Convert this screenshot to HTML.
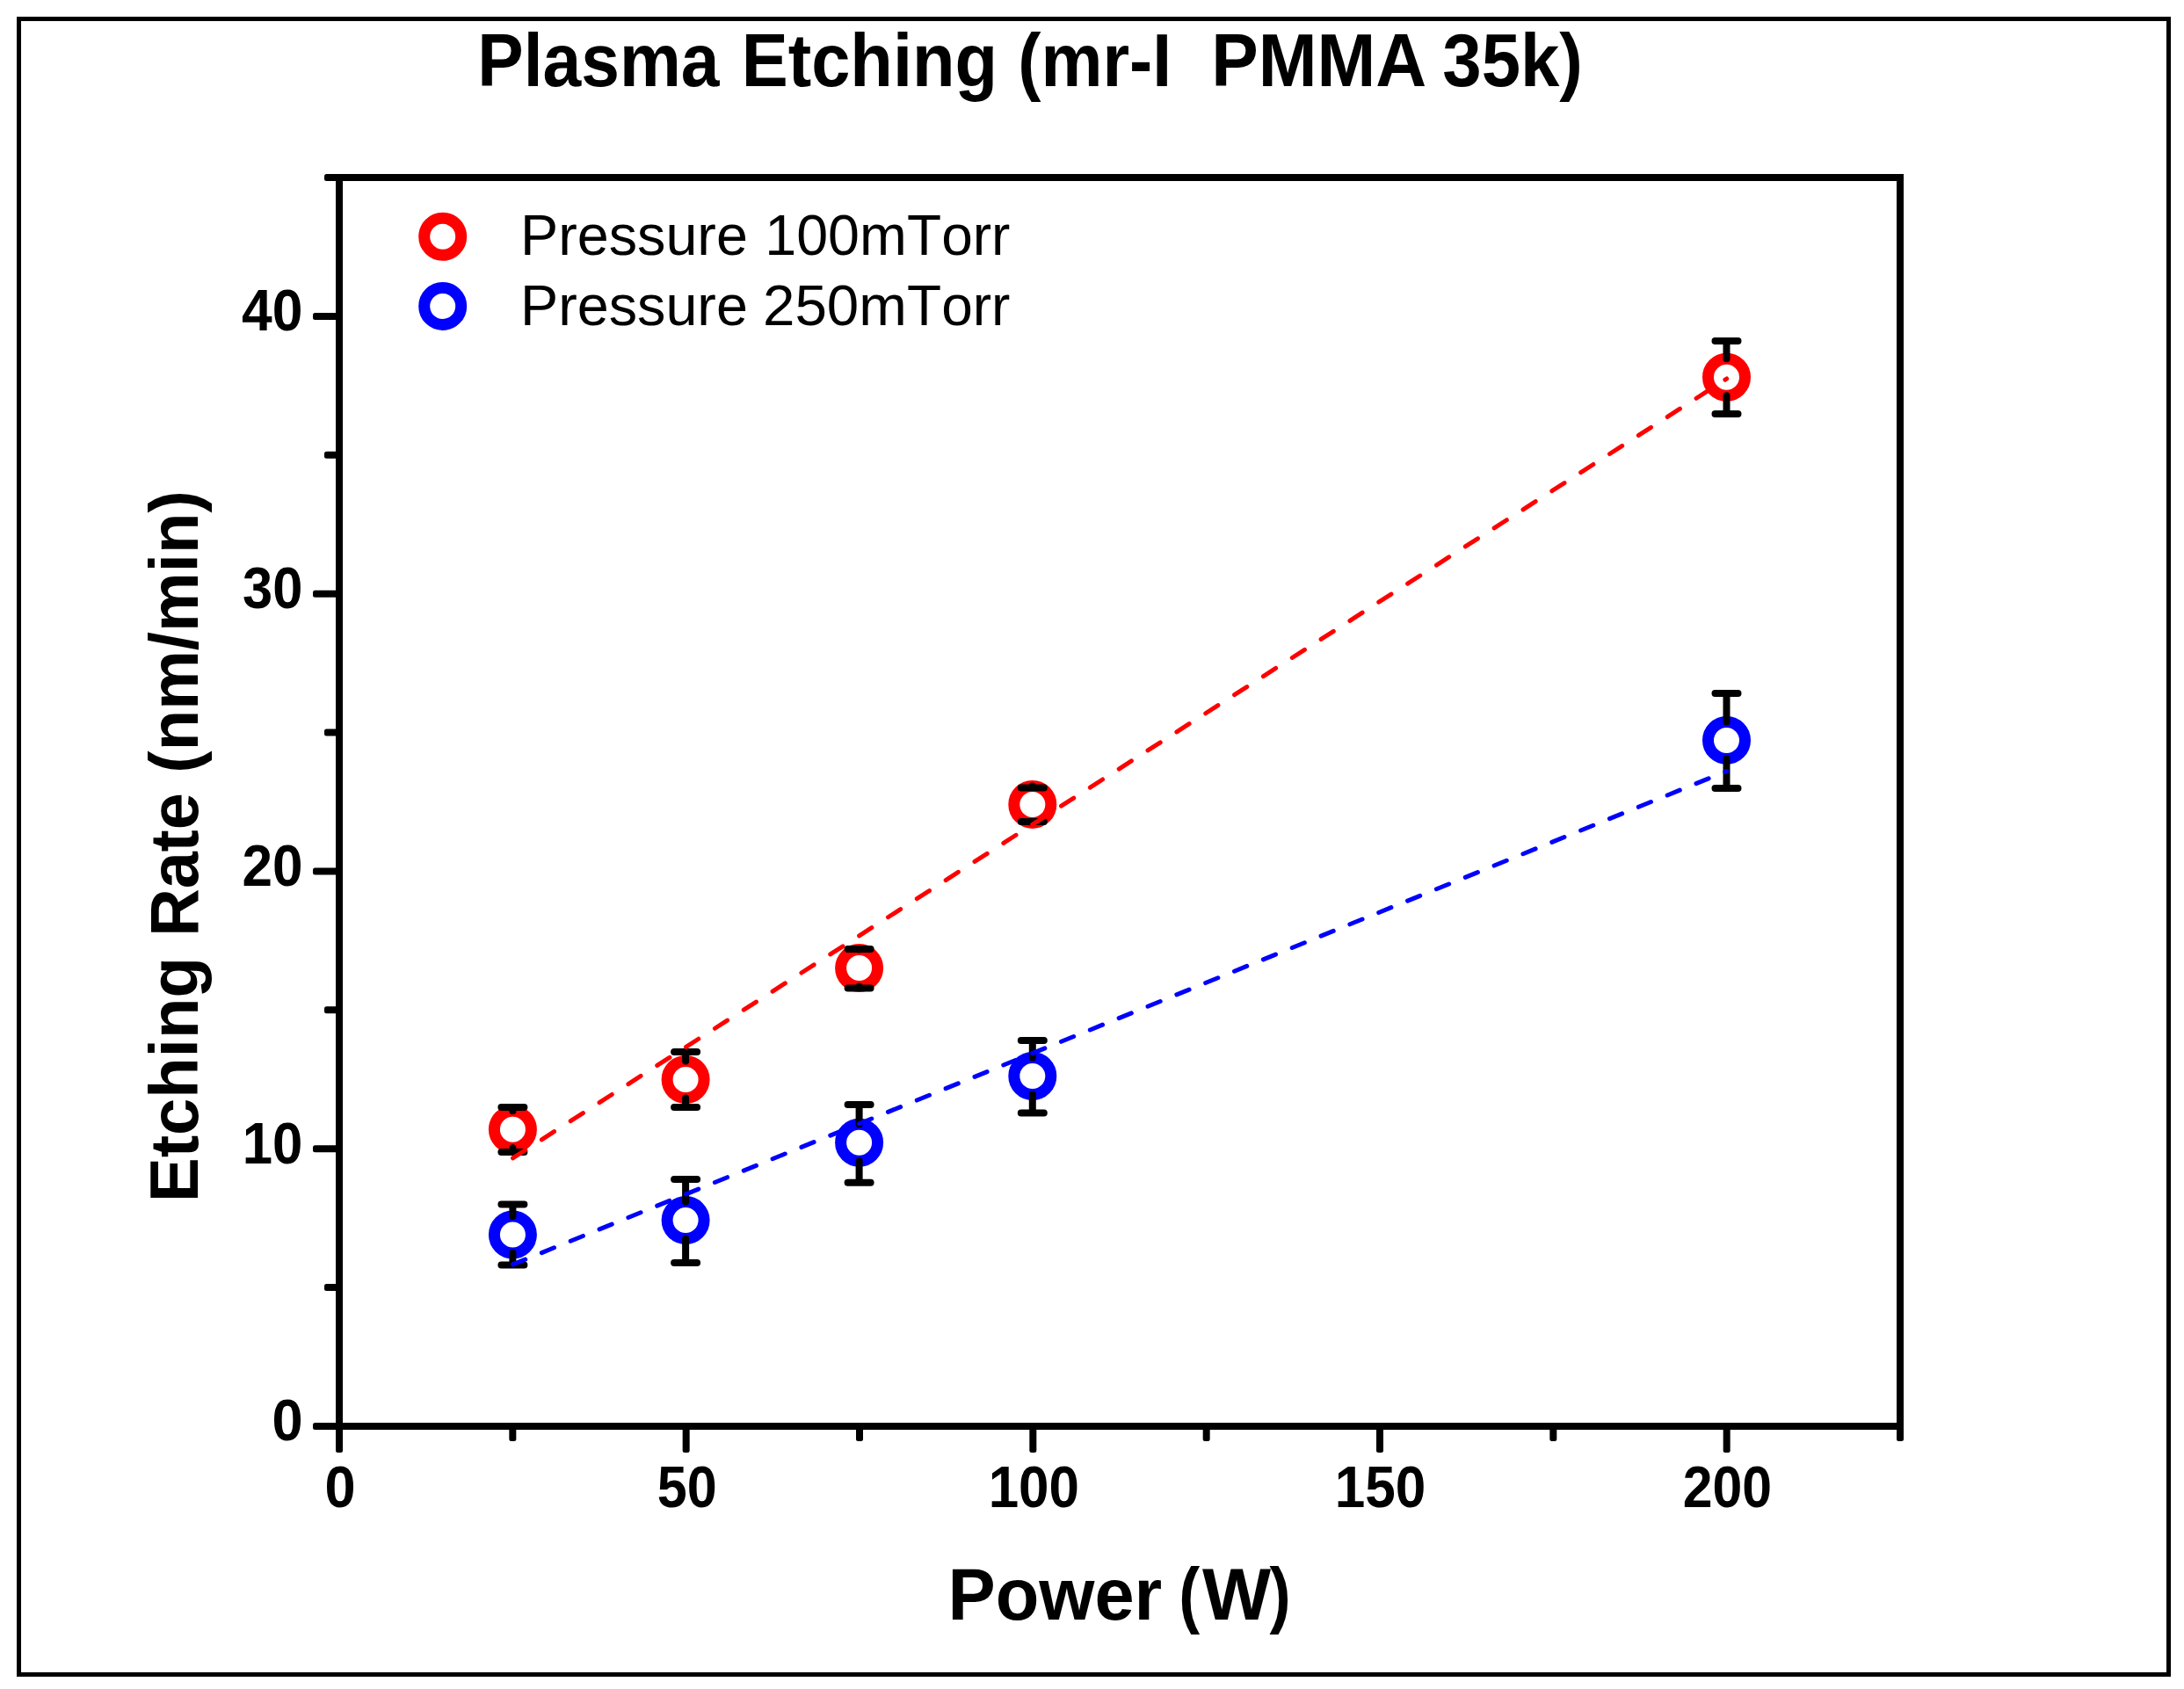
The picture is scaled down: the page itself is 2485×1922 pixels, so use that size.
<!DOCTYPE html><html><head><meta charset="utf-8"><title>Plasma Etching (mr-I PMMA 35k)</title><style>html,body{margin:0;padding:0;background:#fff}</style></head><body><svg width="2485" height="1922" viewBox="0 0 2485 1922" xml:space="preserve" style="display:block;font-family:'Liberation Sans',Arial,sans-serif;font-kerning:none"><rect x="0" y="0" width="2485" height="1922" fill="#fff"/><rect x="21.5" y="21.5" width="2446" height="1884" fill="none" stroke="#000" stroke-width="5"/><g fill="#000"><rect x="356" y="1619.00" width="30" height="8" rx="2.5"/><rect x="356" y="1303.22" width="30" height="8" rx="2.5"/><rect x="356" y="987.44" width="30" height="8" rx="2.5"/><rect x="356" y="671.67" width="30" height="8" rx="2.5"/><rect x="356" y="355.89" width="30" height="8" rx="2.5"/><rect x="369" y="1461.11" width="17" height="8" rx="2.5"/><rect x="369" y="1145.33" width="17" height="8" rx="2.5"/><rect x="369" y="829.56" width="17" height="8" rx="2.5"/><rect x="369" y="513.78" width="17" height="8" rx="2.5"/><rect x="369" y="198.00" width="17" height="8" rx="2.5"/><rect x="382.00" y="1623" width="8" height="30" rx="2.5"/><rect x="776.67" y="1623" width="8" height="30" rx="2.5"/><rect x="1171.33" y="1623" width="8" height="30" rx="2.5"/><rect x="1566.00" y="1623" width="8" height="30" rx="2.5"/><rect x="1960.67" y="1623" width="8" height="30" rx="2.5"/><rect x="579.33" y="1623" width="8" height="17" rx="2.5"/><rect x="974.00" y="1623" width="8" height="17" rx="2.5"/><rect x="1368.67" y="1623" width="8" height="17" rx="2.5"/><rect x="1763.33" y="1623" width="8" height="17" rx="2.5"/><rect x="2158.00" y="1623" width="8" height="17" rx="2.5"/></g><rect x="386" y="202" width="1776" height="1421" fill="none" stroke="#000" stroke-width="8"/><g fill="#000"><text y="98.00" font-size="84.4" font-weight="bold"><tspan x="543.35" textLength="275.16" lengthAdjust="spacingAndGlyphs">Plasma</tspan> <tspan x="843.69" textLength="291.35" lengthAdjust="spacingAndGlyphs">Etching</tspan> <tspan x="1158.34" textLength="174.82" lengthAdjust="spacingAndGlyphs">(mr-I</tspan>  <tspan x="1378.34" textLength="244.89" lengthAdjust="spacingAndGlyphs">PMMA</tspan> <tspan x="1641.31" textLength="159.62" lengthAdjust="spacingAndGlyphs">35k)</tspan></text><text y="1842.60" font-size="83.6" font-weight="bold"><tspan x="1078.46" textLength="243.78" lengthAdjust="spacingAndGlyphs">Power</tspan> <tspan x="1341.35" textLength="23.93" lengthAdjust="spacingAndGlyphs">(</tspan><tspan x="1368.00" textLength="78.15" lengthAdjust="spacingAndGlyphs">W</tspan><tspan x="1444.58" textLength="24.17" lengthAdjust="spacingAndGlyphs">)</tspan></text><text y="290.20" font-size="64.0" font-weight="normal"><tspan x="592.09" textLength="258.78" lengthAdjust="spacingAndGlyphs">Pressure</tspan> <tspan x="870.26" textLength="161.47" lengthAdjust="spacingAndGlyphs">100m</tspan><tspan x="1032.10" textLength="117.26" lengthAdjust="spacingAndGlyphs">Torr</tspan></text><text y="370.00" font-size="64.0" font-weight="normal"><tspan x="592.09" textLength="258.78" lengthAdjust="spacingAndGlyphs">Pressure</tspan> <tspan x="867.97" textLength="163.81" lengthAdjust="spacingAndGlyphs">250m</tspan><tspan x="1032.10" textLength="117.26" lengthAdjust="spacingAndGlyphs">Torr</tspan></text><text transform="translate(225,0) rotate(-90)" y="0.00" font-size="78.2" font-weight="bold"><tspan x="-1368.11" textLength="279.16" lengthAdjust="spacingAndGlyphs">Etching</tspan> <tspan x="-1065.87" textLength="163.61" lengthAdjust="spacingAndGlyphs">Rate</tspan> <tspan x="-879.70" textLength="321.44" lengthAdjust="spacingAndGlyphs">(nm/min)</tspan></text><text y="1715.30" font-size="66.9" font-weight="bold"><tspan x="369.40" textLength="35.15" lengthAdjust="spacingAndGlyphs">0</tspan></text><text y="1715.30" font-size="66.9" font-weight="bold"><tspan x="747.67" textLength="67.95" lengthAdjust="spacingAndGlyphs">50</tspan></text><text y="1715.30" font-size="66.9" font-weight="bold"><tspan x="1124.67" textLength="103.28" lengthAdjust="spacingAndGlyphs">100</tspan></text><text y="1715.30" font-size="66.9" font-weight="bold"><tspan x="1518.66" textLength="103.60" lengthAdjust="spacingAndGlyphs">150</tspan></text><text y="1715.30" font-size="66.9" font-weight="bold"><tspan x="1914.76" textLength="101.34" lengthAdjust="spacingAndGlyphs">200</tspan></text><text y="1639.30" font-size="66.9" font-weight="bold"><tspan x="309.40" textLength="35.15" lengthAdjust="spacingAndGlyphs">0</tspan></text><text y="1323.52" font-size="66.9" font-weight="bold"><tspan x="275.78" textLength="68.67" lengthAdjust="spacingAndGlyphs">10</tspan></text><text y="1007.74" font-size="66.9" font-weight="bold"><tspan x="275.41" textLength="69.05" lengthAdjust="spacingAndGlyphs">20</tspan></text><text y="691.97" font-size="66.9" font-weight="bold"><tspan x="276.12" textLength="68.32" lengthAdjust="spacingAndGlyphs">30</tspan></text><text y="376.19" font-size="66.9" font-weight="bold"><tspan x="275.07" textLength="69.41" lengthAdjust="spacingAndGlyphs">40</tspan></text></g><circle cx="503.7" cy="269.3" r="21" fill="#fff" stroke="#f00" stroke-width="13"/><circle cx="503.7" cy="348.4" r="21" fill="#fff" stroke="#00f" stroke-width="13"/><circle cx="583.40" cy="1285.3" r="21" fill="#fff" stroke="#f00" stroke-width="13"/><circle cx="780.10" cy="1228.5" r="21" fill="#fff" stroke="#f00" stroke-width="13"/><circle cx="977.60" cy="1101.6" r="21" fill="#fff" stroke="#f00" stroke-width="13"/><circle cx="1174.80" cy="915.4" r="21" fill="#fff" stroke="#f00" stroke-width="13"/><circle cx="1964.50" cy="429.3" r="21" fill="#fff" stroke="#f00" stroke-width="13"/><g fill="none" stroke="#000" stroke-width="8" stroke-linecap="round"><path d="M570.40 1260H596.40M570.40 1311H596.40M583.40 1260V1264.3M583.40 1311V1306.3"/><path d="M767.10 1197H793.10M767.10 1260H793.10M780.10 1197V1207.5M780.10 1260V1249.5"/><path d="M964.60 1080H990.60M964.60 1124.6H990.60M977.60 1080V1080.6M977.60 1124.6V1122.6"/><path d="M1161.80 896.5H1187.80M1161.80 935H1187.80M1174.80 896.5V894.4M1174.80 935V936.4"/><path d="M1951.50 388H1977.50M1951.50 471H1977.50M1964.50 388V408.3M1964.50 471V450.3"/></g><circle cx="583.40" cy="1405" r="21" fill="#fff" stroke="#00f" stroke-width="13"/><circle cx="780.10" cy="1388.6" r="21" fill="#fff" stroke="#00f" stroke-width="13"/><circle cx="977.60" cy="1300.3" r="21" fill="#fff" stroke="#00f" stroke-width="13"/><circle cx="1174.80" cy="1224.5" r="21" fill="#fff" stroke="#00f" stroke-width="13"/><circle cx="1964.50" cy="842.4" r="21" fill="#fff" stroke="#00f" stroke-width="13"/><g fill="none" stroke="#000" stroke-width="8" stroke-linecap="round"><path d="M570.40 1370.5H596.40M570.40 1439.5H596.40M583.40 1370.5V1384M583.40 1439.5V1426"/><path d="M767.10 1342H793.10M767.10 1437H793.10M780.10 1342V1367.6M780.10 1437V1409.6"/><path d="M964.60 1257H990.60M964.60 1345.7H990.60M977.60 1257V1279.3M977.60 1345.7V1321.3"/><path d="M1161.80 1184H1187.80M1161.80 1266.5H1187.80M1174.80 1184V1203.5M1174.80 1266.5V1245.5"/><path d="M1951.50 789H1977.50M1951.50 897H1977.50M1964.50 789V821.4M1964.50 897V863.4"/></g><line x1="583.50" y1="1317.89" x2="1964.67" y2="431.00" stroke="#f00" stroke-width="5.0" stroke-linecap="round" stroke-dasharray="16.88 22.15"/><line x1="583.50" y1="1438.93" x2="1964.67" y2="877.50" stroke="#00f" stroke-width="5.0" stroke-linecap="round" stroke-dasharray="15.33 20.12"/></svg></body></html>
